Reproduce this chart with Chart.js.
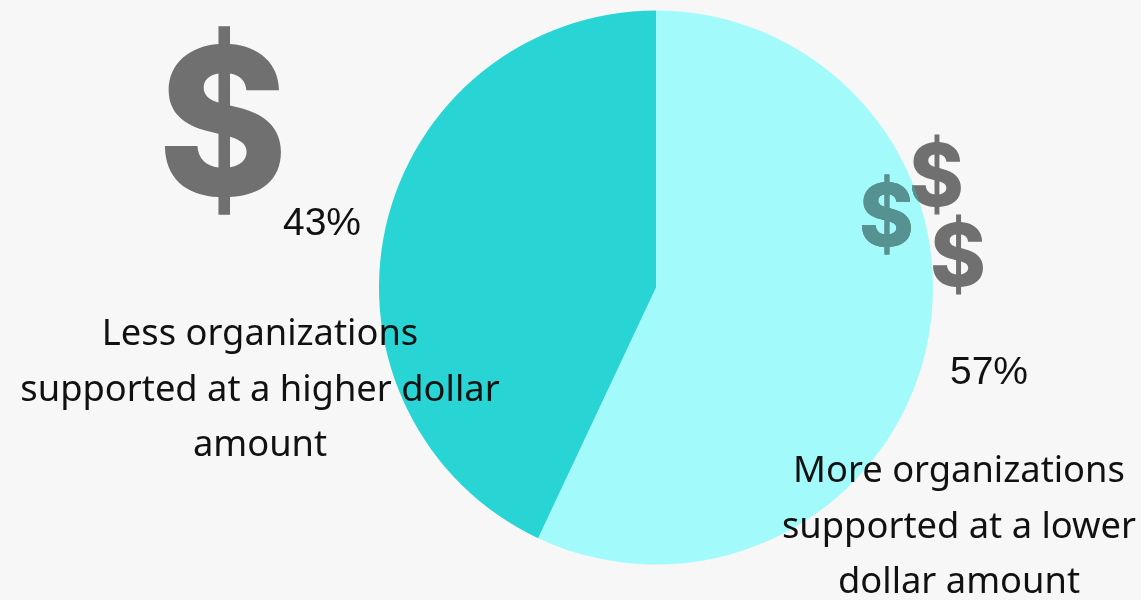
<!DOCTYPE html>
<html>
<head>
<meta charset="utf-8">
<script src="https://cdn.jsdelivr.net/npm/chart.js@4"></script>
<style>
  html, body { margin: 0; padding: 0; background: #f7f7f7; }
  #wrap { position: relative; width: 1141px; height: 600px; overflow: hidden; }
  canvas { position: absolute; left: 0; top: 0; }
</style>
</head>
<body>
<div id="wrap"><canvas id="pie" width="1141" height="600"></canvas></div>
<script>
const categories = ["More organizations supported at a lower dollar amount", "Less organizations supported at a higher dollar amount"];
const shares = [57, 43];
const sliceColors = ["#a2fbfa", "#29d4d4"];
const shareLabels = ["57%", "43%"];

// draw a dollar sign so its ink fills the given box
function dollar(ctx, x, y, w, h) {
  ctx.save();
  ctx.font = "800 200px Inter, 'Liberation Sans'";
  ctx.textAlign = "left";
  ctx.textBaseline = "alphabetic";
  const m = ctx.measureText("$");
  const inkW = m.actualBoundingBoxLeft + m.actualBoundingBoxRight;
  const inkH = m.actualBoundingBoxAscent + m.actualBoundingBoxDescent;
  ctx.translate(x, y);
  ctx.scale(w / inkW, h / inkH);
  ctx.fillText("$", m.actualBoundingBoxLeft, m.actualBoundingBoxAscent);
  ctx.restore();
}

// text and dollar signs laid over the pie
const overlays = {
  id: "overlays",
  afterDraw(c) {
    const ctx = c.ctx;
    ctx.save();
    ctx.fillStyle = "#707070";
    dollar(ctx, 165, 26, 116, 190);
    dollar(ctx, 912, 135, 49, 80);
    dollar(ctx, 933, 215, 50, 80);
    dollar(ctx, 862, 175, 49, 80);

    // the signs read teal where they sit on the light slice
    const arc = c.getDatasetMeta(0).data[0];
    ctx.save();
    ctx.beginPath();
    ctx.arc(arc.x, arc.y, arc.outerRadius, arc.startAngle, arc.endAngle);
    ctx.lineTo(arc.x, arc.y);
    ctx.closePath();
    ctx.clip();
    ctx.fillStyle = "#569292";
    dollar(ctx, 912, 135, 49, 80);
    dollar(ctx, 862, 175, 49, 80);
    ctx.restore();

    ctx.textAlign = "center";
    ctx.textBaseline = "alphabetic";
    ctx.fillStyle = "#111111";
    ctx.font = "39px 'Liberation Sans'";
    ctx.fillText(shareLabels[1], 322, 235);
    ctx.fillText(shareLabels[0], 989, 384);
    ctx.font = "36.3px 'Noto Sans'";
    ["Less organizations", "supported at a higher dollar", "amount"].forEach((t, i) => ctx.fillText(t, 260, 345 + i * 55.5));
    ["More organizations", "supported at a lower", "dollar amount"].forEach((t, i) => ctx.fillText(t, 959, 482 + i * 55.5));
    ctx.restore();
  }
};

new Chart(document.getElementById("pie"), {
  type: "pie",
  data: {
    labels: categories,
    datasets: [{
      data: shares,
      backgroundColor: sliceColors,
      borderWidth: 0
    }]
  },
  options: {
    responsive: false,
    animation: false,
    radius: 277,
    layout: { padding: { left: 171, right: 0, top: 0, bottom: 25 } },
    plugins: { legend: { display: false }, tooltip: { enabled: false } }
  },
  plugins: [overlays]
});
</script>
</body>
</html>
